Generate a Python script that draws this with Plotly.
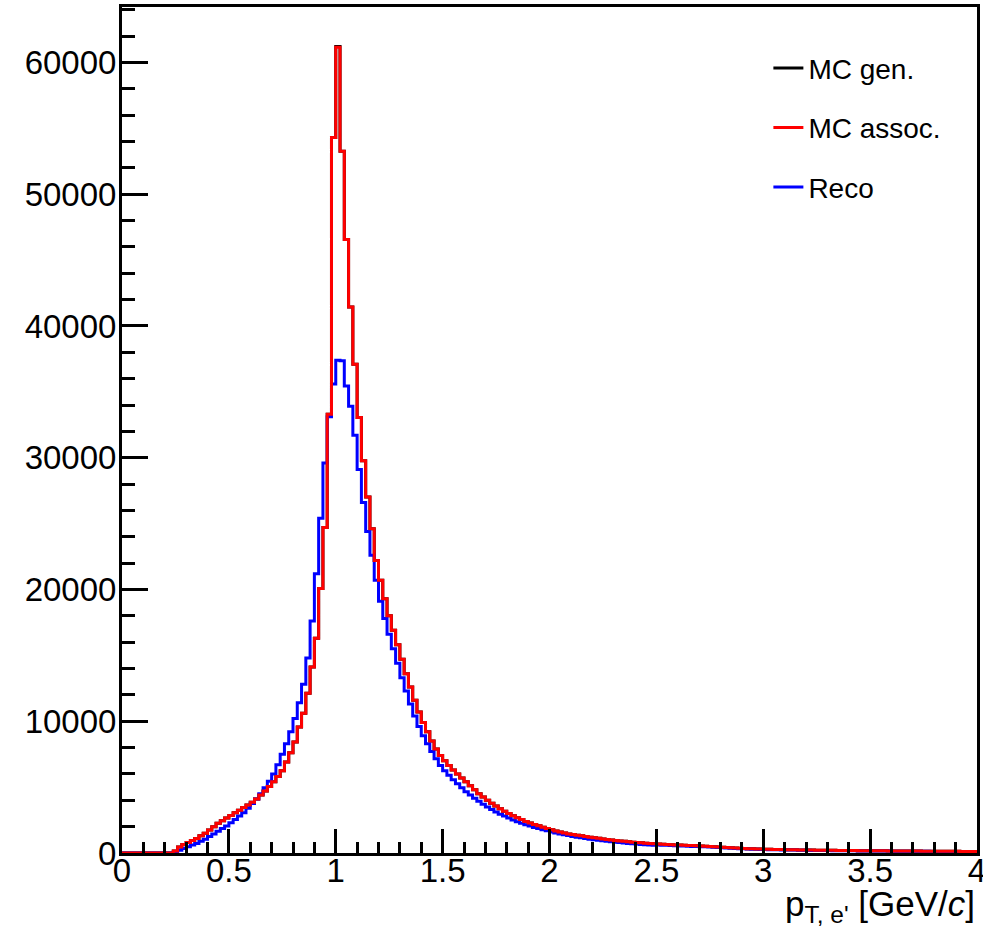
import plotly.graph_objects as go

# ---- data (bin width 0.02, 200 bins from 0 to 4) ----
bin_lo = 0.0
bin_hi = 4.0
n_bins = 200

mc_assoc = [
    0, 0, 0, 0, 0, 0, 0, 0, 0, 0,
    0, 0, 150, 450, 650, 800, 950, 1100, 1300, 1500,
    1750, 2000, 2250, 2450, 2650, 2850, 3050, 3250, 3450, 3650,
    3850, 4100, 4400, 4700, 5050, 5400, 5800, 6250, 6900, 7600,
    8430, 9570, 10600, 12120, 14110, 16290, 20070, 24700, 33300, 54300,
    61150, 53260, 46570, 41440, 37100, 33050, 29770, 27020, 24600, 22200,
    20700, 19300, 18000, 16900, 15800, 14700, 13600, 12600, 11600, 10700,
    9900, 9200, 8500, 7900, 7400, 7000, 6650, 6300, 6000, 5700,
    5400, 5100, 4800, 4500, 4250, 4000, 3780, 3560, 3360, 3170,
    3000, 2830, 2680, 2540, 2400, 2280, 2170, 2060, 1960, 1860,
    1760, 1670, 1590, 1510, 1450, 1400, 1350, 1300, 1250, 1200,
    1160, 1110, 1070, 1030, 990, 955, 920, 885, 855, 825,
    795, 770, 745, 720, 700, 680, 665, 650, 630, 615,
    600, 590, 575, 560, 550, 535, 520, 500, 480, 460,
    440, 420, 400, 380, 360, 345, 330, 318, 305, 295,
    285, 280, 272, 265, 258, 252, 247, 241, 236, 230,
    226, 221, 217, 212, 208, 204, 200, 196, 193, 189,
    186, 183, 180, 177, 174, 171, 168, 165, 162, 160,
    157, 155, 152, 150, 147, 145, 143, 141, 138, 136,
    134, 132, 130, 128, 126, 124, 122, 120, 118, 116,
]

# MC gen. lies exactly under MC assoc. in the picture
mc_gen = [
    0, 0, 0, 0, 0, 0, 0, 0, 0, 0,
    0, 0, 150, 450, 650, 800, 950, 1100, 1300, 1500,
    1750, 2000, 2250, 2450, 2650, 2850, 3050, 3250, 3450, 3650,
    3850, 4100, 4400, 4700, 5050, 5400, 5800, 6250, 6900, 7600,
    8430, 9570, 10600, 12120, 14110, 16290, 20070, 24700, 33300, 54300,
    61200, 53260, 46570, 41440, 37100, 33050, 29770, 27020, 24600, 22200,
    20700, 19300, 18000, 16900, 15800, 14700, 13600, 12600, 11600, 10700,
    9900, 9200, 8500, 7900, 7400, 7000, 6650, 6300, 6000, 5700,
    5400, 5100, 4800, 4500, 4250, 4000, 3780, 3560, 3360, 3170,
    3000, 2830, 2680, 2540, 2400, 2280, 2170, 2060, 1960, 1860,
    1760, 1670, 1590, 1510, 1450, 1400, 1350, 1300, 1250, 1200,
    1160, 1110, 1070, 1030, 990, 955, 920, 885, 855, 825,
    795, 770, 745, 720, 700, 680, 665, 650, 630, 615,
    600, 590, 575, 560, 550, 535, 520, 500, 480, 460,
    440, 420, 400, 380, 360, 345, 330, 318, 305, 295,
    285, 280, 272, 265, 258, 252, 247, 241, 236, 230,
    226, 221, 217, 212, 208, 204, 200, 196, 193, 189,
    186, 183, 180, 177, 174, 171, 168, 165, 162, 160,
    157, 155, 152, 150, 147, 145, 143, 141, 138, 136,
    134, 132, 130, 128, 126, 124, 122, 120, 118, 116,
]

reco = [
    0, 0, 0, 0, 0, 0, 0, 0, 0, 0,
    0, 0, 50, 200, 350, 480, 600, 720, 900, 1050,
    1250, 1450, 1650, 1850, 2050, 2300, 2550, 2800, 3050, 3400,
    3750, 4100, 4500, 4950, 5450, 6000, 6700, 7500, 8300, 9200,
    10200, 11400, 12800, 14800, 17600, 21200, 25400, 29600, 33100, 35600,
    37400, 37350, 35450, 33900, 31700, 29100, 26600, 24400, 22600, 20700,
    19100, 17800, 16600, 15500, 14400, 13300, 12300, 11300, 10400, 9600,
    8900, 8300, 7700, 7150, 6650, 6250, 5900, 5550, 5250, 4950,
    4650, 4400, 4150, 3920, 3700, 3500, 3300, 3120, 2950, 2800,
    2650, 2510, 2380, 2260, 2150, 2040, 1940, 1850, 1760, 1680,
    1600, 1520, 1450, 1380, 1320, 1260, 1200, 1150, 1100, 1050,
    1010, 970, 930, 890, 855, 820, 790, 760, 730, 700,
    675, 650, 625, 600, 580, 610, 595, 580, 565, 550,
    540, 525, 515, 500, 490, 478, 465, 450, 432, 415,
    398, 380, 362, 345, 328, 314, 300, 290, 280, 270,
    262, 255, 248, 242, 235, 230, 224, 219, 213, 208,
    204, 199, 195, 191, 187, 183, 180, 176, 173, 170,
    167, 164, 161, 158, 156, 153, 151, 148, 146, 143,
    141, 139, 137, 135, 133, 131, 129, 127, 125, 123,
    121, 119, 118, 116, 114, 112, 111, 109, 107, 106,
]

series_names = ["MC gen.", "MC assoc.", "Reco"]
x_ticks = [0, 0.5, 1, 1.5, 2, 2.5, 3, 3.5, 4]
y_ticks = [0, 10000, 20000, 30000, 40000, 50000, 60000]

# ---- build step outlines ----
width = (bin_hi - bin_lo) / n_bins
edges = [round(bin_lo + i * width, 6) for i in range(n_bins + 1)]


def step_y(vals):
    return list(vals) + [vals[-1]]


FONT = "Liberation Sans, Arial, Helvetica, sans-serif"

fig = go.Figure()
# drawing order: black, blue, red (red on top) ; legend order via legendrank
fig.add_trace(go.Scatter(x=edges, y=step_y(mc_gen), mode="lines", line_shape="hv",
                         line=dict(color="black", width=3), name=series_names[0],
                         legendrank=1, legendgroup="g1"))
fig.add_trace(go.Scatter(x=edges, y=step_y(reco), mode="lines", line_shape="hv",
                         line=dict(color="#0000ff", width=3), name=series_names[2],
                         legendrank=3, legendgroup="g3"))
fig.add_trace(go.Scatter(x=edges, y=step_y(mc_assoc), mode="lines", line_shape="hv",
                         line=dict(color="#ff0000", width=3), name=series_names[1],
                         legendrank=2, legendgroup="g2"))

fig.update_layout(
    width=983, height=936,
    margin=dict(l=122, r=6, t=7, b=83, autoexpand=False),
    paper_bgcolor="white", plot_bgcolor="white",
    font=dict(family=FONT, color="black", size=33),
    showlegend=True,
    legend=dict(x=0.756, y=0.957, xanchor="left", yanchor="top",
                bgcolor="rgba(0,0,0,0)", borderwidth=0,
                font=dict(size=28, family=FONT), tracegroupgap=20,
                itemwidth=30),
    xaxis=dict(range=[bin_lo, bin_hi], tickvals=x_ticks,
               ticktext=[("%g" % v) for v in x_ticks],
               ticks="inside", ticklen=24, tickwidth=3, tickcolor="black",
               showline=True, linewidth=3, linecolor="black", mirror=True,
               showgrid=False, zeroline=False, automargin=False,
               ticklabelstandoff=-14, ticklabeloverflow="allow",
               minor=dict(dtick=0.1, ticks="inside", ticklen=11, tickwidth=3,
                          tickcolor="black", showgrid=False),
               tickfont=dict(size=33, family=FONT)),
    yaxis=dict(range=[0, 64207], tickvals=y_ticks, tickformat="d",
               ticks="inside", ticklen=26, tickwidth=3, tickcolor="black",
               showline=True, linewidth=3, linecolor="black", mirror=True,
               showgrid=False, zeroline=False, automargin=False,
               ticklabelstandoff=-4, ticklabeloverflow="allow",
               minor=dict(dtick=2000, ticks="inside", ticklen=13, tickwidth=3,
                          tickcolor="black", showgrid=False),
               tickfont=dict(size=33, family=FONT)),
    annotations=[dict(text="p<sub>T, e'</sub> [GeV/<i>c</i>]", xref="paper", yref="paper",
                      x=1.0, y=-0.063, xanchor="right", yanchor="middle",
                      showarrow=False, font=dict(size=35, family=FONT))],
)

fig.write_html("out.html")
